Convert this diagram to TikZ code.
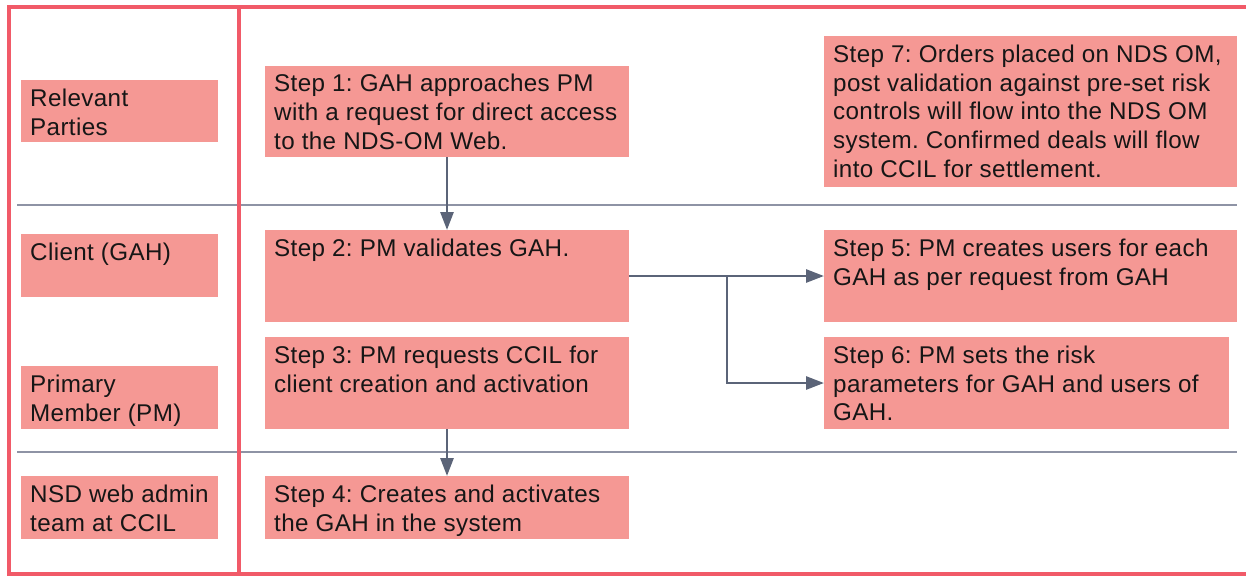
\documentclass[tikz,border=0pt]{standalone}
\usepackage{fontspec}
\setmainfont[LetterSpace=1.5]{Liberation Sans}
\usetikzlibrary{arrows.meta}
\definecolor{framered}{HTML}{F15A68}
\definecolor{boxpink}{HTML}{F59894}
\definecolor{rulegray}{HTML}{8E93A5}
\definecolor{arrowgray}{HTML}{5B6478}
\definecolor{txt}{HTML}{161616}
\tikzset{
  pbox/.style={fill=boxpink, draw=none, inner sep=0pt, outer sep=0pt, anchor=north west},
  ptext/.style={anchor=north west, inner sep=0pt, align=left, text=txt,
    font=\fontsize{24.2}{28.8}\selectfont\frenchspacing},
  frameline/.style={draw=framered, line width=4.8pt},
  rowline/.style={draw=rulegray, line width=2pt},
  flow/.style={draw=arrowgray, line width=2.7pt, -{Triangle[length=18pt,width=13pt]}}
}
\begin{document}
\begin{tikzpicture}[x=1pt,y=-1pt]
\useasboundingbox (0,0) rectangle (1246,576);
\fill[white] (0,0) rectangle (1246,576);
% row separators
\draw[rowline] (17,205) -- (1237,205);
\draw[rowline] (17,452) -- (1237,452);
% frame
\draw[frameline] (1246,7) -- (9,7) -- (9,574) -- (1246,574);
\draw[frameline] (239,7) -- (239,574);
% left column boxes
\node[pbox, minimum width=197pt, minimum height=62pt] (lp) at (21,80) {};
\node[ptext] (lpt) at (30,88.5) {Relevant\\Parties};
\node[pbox, minimum width=197pt, minimum height=63pt] (lc) at (21,234) {};
\node[ptext] (lct) at (30,242.5) {Client (GAH)};
\node[pbox, minimum width=197pt, minimum height=63pt] (lm) at (21,366) {};
\node[ptext] (lmt) at (30,374.5) {Primary\\Member (PM)};
\node[pbox, minimum width=197pt, minimum height=63pt] (ln) at (21,476) {};
\node[ptext] (lnt) at (30,484.5) {NSD web admin\\team at CCIL};
% step boxes
\node[pbox, minimum width=364pt, minimum height=91pt] (s1) at (265,66) {};
\node[ptext] (s1t) at (274,74) {Step 1: GAH approaches PM\\with a request for direct access\\to the NDS-OM Web.};
\node[pbox, minimum width=364pt, minimum height=92pt] (s2) at (265,230) {};
\node[ptext] (s2t) at (274,238.5) {Step 2: PM validates GAH.};
\node[pbox, minimum width=364pt, minimum height=92pt] (s3) at (265,337) {};
\node[ptext] (s3t) at (274,345.5) {Step 3: PM requests CCIL for\\client creation and activation};
\node[pbox, minimum width=364pt, minimum height=63pt] (s4) at (265,476) {};
\node[ptext] (s4t) at (274,484.5) {Step 4: Creates and activates\\the GAH in the system};
\node[pbox, minimum width=413pt, minimum height=92pt] (s5) at (824,230) {};
\node[ptext] (s5t) at (833,238.5) {Step 5: PM creates users for each\\GAH as per request from GAH};
\node[pbox, minimum width=405pt, minimum height=92pt] (s6) at (824,337) {};
\node[ptext] (s6t) at (833,345.5) {Step 6: PM sets the risk\\parameters for GAH and users of\\GAH.};
\node[pbox, minimum width=413pt, minimum height=151pt] (s7) at (824,36) {};
\node[ptext] (s7t) at (833,44.5) {Step 7: Orders placed on NDS OM,\\post validation against pre-set risk\\controls will flow into the NDS OM\\system. Confirmed deals will flow\\into CCIL for settlement.};
% connectors
\draw[flow] (s1.south) -- (s2.north);
\draw[flow] (s3.south) -- (s4.north);
\draw[flow] (s2.east) -- (s5.west);
\coordinate (brx) at (727,276);
\draw[flow] (brx) |- (s6.west);
\end{tikzpicture}
\end{document}
